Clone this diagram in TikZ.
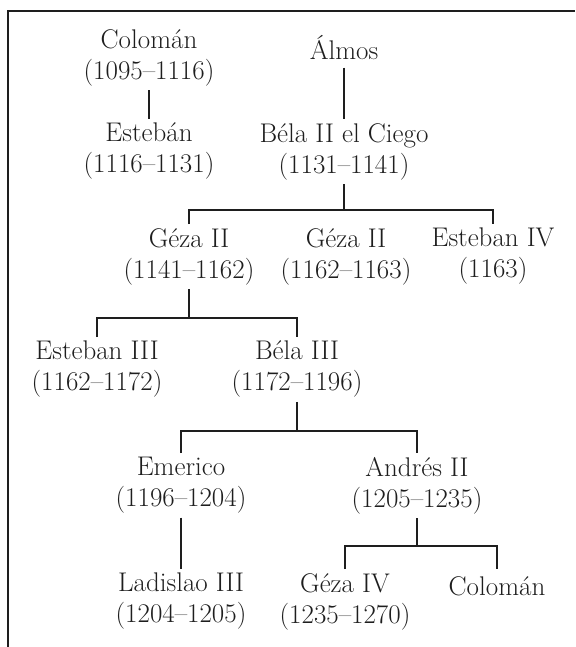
\documentclass[tikz,border=0pt]{standalone}
\usepackage{xcolor}
\usepackage{tikz}
\definecolor{ink}{HTML}{1E1E1E}

\begin{document}
\begin{tikzpicture}[x=1pt, y=1pt,
    king/.style={anchor=north, align=center, inner sep=4pt, text=ink,
      font=\fontsize{27}{31}\selectfont,
      execute at begin node={\rule{0pt}{22pt}},
      execute at end node={\rule[-4pt]{0pt}{4pt}}},
    tie/.style={draw=ink, line width=1.1pt}]
  \useasboundingbox (0,0) rectangle (575,-647);
  \draw[ink, line width=1.4pt] (8,-647) -- (8,-11) -- (575,-11);

  \node[king] (coloman)  at (149,-25)  {Colomán\\(1095–1116)};
  \node[king] (esteban)  at (149,-119) {Estebán\\(1116–1131)};
  \node[king] (almos)    at (344,-31)  {Álmos};
  \node[king] (bela2)    at (344,-119) {Béla II el Ciego\\(1131–1141)};
  \node[king] (geza2a)   at (189,-224) {Géza II\\(1141–1162)};
  \node[king] (geza2b)   at (346,-224) {Géza II\\(1162–1163)};
  \node[king] (esteban4) at (493,-224) {Esteban IV\\(1163)};
  \node[king] (esteban3) at (97,-337)  {Esteban III\\(1162–1172)};
  \node[king] (bela3)    at (297,-337) {Béla III\\(1172–1196)};
  \node[king] (emerico)  at (181,-453) {Emerico\\(1196–1204)};
  \node[king] (andres2)  at (417,-453) {Andrés II\\(1205–1235)};
  \node[king] (ladislao) at (181,-569) {Ladislao III\\(1204–1205)};
  \node[king] (geza4)    at (345,-569) {Géza IV\\(1235–1270)};
  \node[king] (coloman2) at (497,-569) {Colomán};

  \coordinate (bar1) at (344,-210);
  \coordinate (bar2) at (189,-318);
  \coordinate (bar3) at (297,-431);
  \coordinate (bar4) at (417,-546);

  \draw[tie] (coloman.south) -- (esteban.north);
  \draw[tie] (almos.south) -- (bela2.north);
  \draw[tie] (bela2.south) -- (bar1);
  \draw[tie] (geza2a.north) |- (bar1) -| (esteban4.north);
  \draw[tie] (geza2a.south) -- (bar2);
  \draw[tie] (esteban3.north) |- (bar2) -| (bela3.north);
  \draw[tie] (bela3.south) -- (bar3);
  \draw[tie] (emerico.north) |- (bar3) -| (andres2.north);
  \draw[tie] (emerico.south) -- (ladislao.north);
  \draw[tie] (andres2.south) -- (bar4);
  \draw[tie] (geza4.north) |- (bar4) -| (coloman2.north);
\end{tikzpicture}
\end{document}
